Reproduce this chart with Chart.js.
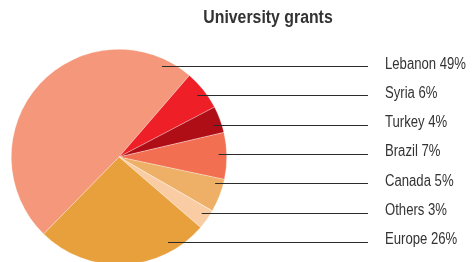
<!DOCTYPE html>
<html>
<head>
<meta charset="utf-8">
<script src="https://cdn.jsdelivr.net/npm/chart.js@4/dist/chart.umd.min.js"></script>
<style>
  html, body { margin: 0; padding: 0; background: #fff; overflow: hidden; }
  #wrap { width: 476px; height: 262px; overflow: hidden; }
</style>
</head>
<body>
<div id="wrap"><canvas id="grantsChart" width="476" height="266"></canvas></div>
<script>
// Données
const chartTitle = "University grants";
const countries = ["Lebanon", "Syria", "Turkey", "Brazil", "Canada", "Others", "Europe"];
const shares = [49, 6, 4, 7, 5, 3, 26];
const colors = ["#F4977A", "#EE1F26", "#B00E16", "#F26F52", "#EEB066", "#FACCA3", "#E8A03C"];

const FONT = '"Liberation Sans", Arial, sans-serif';

// texte "condensé" : on compresse horizontalement
function narrowText(ctx, text, x, y, sx) {
  ctx.save();
  ctx.translate(x, y);
  ctx.scale(sx, 1);
  ctx.fillText(text, 0, 0);
  ctx.restore();
}

// Titre + lignes de rappel + étiquettes
const leaderLabels = {
  id: "leaderLabels",
  afterDraw(chart) {
    const ctx = chart.ctx;
    const meta = chart.getDatasetMeta(0);
    const arc0 = meta.data[0];
    const cx = arc0.x, cy = arc0.y, R = arc0.outerRadius;
    const step = 29.3;
    const lineEnd = 368, textX = 385;

    ctx.save();
    ctx.fillStyle = "#333";
    ctx.font = "bold 18px " + FONT;
    ctx.textAlign = "center";
    ctx.textBaseline = "middle";
    narrowText(ctx, chartTitle, 268, 18, 0.88);

    ctx.font = "16px " + FONT;
    ctx.textAlign = "left";
    meta.data.forEach((arc, i) => {
      const y = cy - 3 + (i - 3) * step;
      const r = R * 0.925;
      const dy = y - cy;
      // point à l'intérieur de la tranche, sur la ligne horizontale
      let startX = cx + Math.sqrt(Math.max(r * r - dy * dy, 0));
      if (i === 0) startX = cx + 43;
      if (i === 6) startX = cx + 49;
      ctx.strokeStyle = "#2b2b2b";
      ctx.lineWidth = 1;
      ctx.beginPath();
      ctx.moveTo(startX, Math.round(y) + 0.5);
      ctx.lineTo(lineEnd, Math.round(y) + 0.5);
      ctx.stroke();
      ctx.fillStyle = "#333";
      narrowText(ctx, countries[i] + " " + shares[i] + "%", textX, y - 2, 0.82);
    });
    ctx.restore();
  }
};

const ctx = document.getElementById("grantsChart").getContext("2d");
new Chart(ctx, {
  type: "pie",
  data: {
    labels: countries,
    datasets: [
      {
        data: shares,
        backgroundColor: colors,
        borderColor: "rgba(255,255,255,0.6)",
        borderWidth: 0.5,
      },
    ],
  },
  options: {
    responsive: false,
    animation: false,
    rotation: 224.4,
    layout: { padding: { left: 11, right: 249, top: 49, bottom: 1 } },
    plugins: {
      legend: { display: false },
      tooltip: { enabled: false },
      title: { display: false },
    },
  },
  plugins: [leaderLabels],
});
</script>
</body>
</html>
